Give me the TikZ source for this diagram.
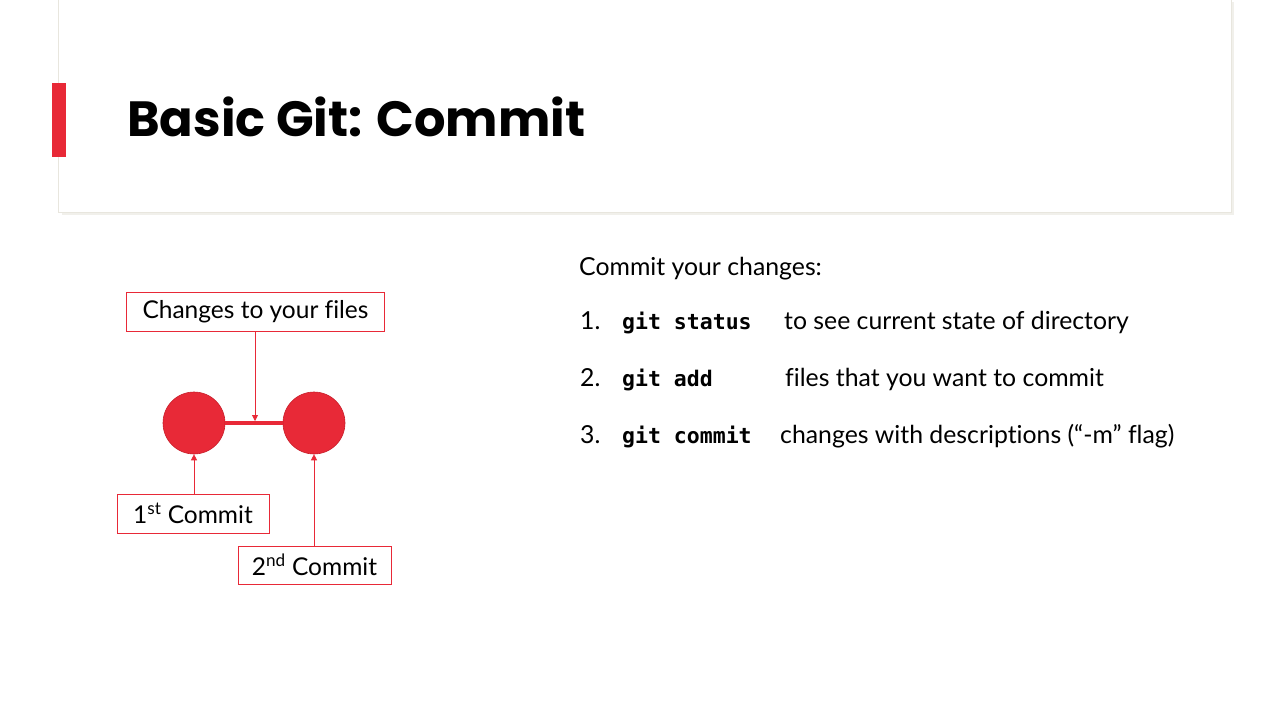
\documentclass[tikz,border=0pt]{standalone}
\usepackage{fontspec}
\setmainfont[Ligatures=NoCommon]{Lato}
\newfontfamily\titlefont{Poppins}
\newfontfamily\codefont{DejaVu Sans Mono}
\usetikzlibrary{arrows.meta}
\definecolor{gitred}{RGB}{232,41,55}
\definecolor{gitredd}{RGB}{200,30,42}
\definecolor{cardline}{RGB}{232,230,222}
\tikzset{
  lbl/.style={draw=gitred, line width=0.8pt, fill=white, inner sep=0pt, font=\fontsize{24.5}{28}\selectfont},
  commit/.style={circle, fill=gitred, draw=gitredd, line width=0.6pt, minimum size=62pt, inner sep=0pt},
  ptr/.style={draw=gitred, line width=0.8pt, -{Triangle[length=6pt,width=6pt]}},
  body/.style={anchor=base west, inner sep=0pt, font=\fontsize{24.8}{30}\selectfont},
  code/.style={anchor=base west, inner sep=0pt, font=\codefont\bfseries\fontsize{21.5}{26}\selectfont},
}
\begin{document}
\begin{tikzpicture}[x=1pt,y=-1pt]
\useasboundingbox (0,0) rectangle (1280,720);
\fill[white] (0,0) rectangle (1280,720);
% title card with shadow
\fill[cardline!60] (62,2) rectangle (1234,215);
\fill[white,draw=cardline,line width=0.8pt] (58,-2) rectangle (1231,212);
\fill[gitred] (52,83) rectangle (66,157);
\node[anchor=base west, inner sep=0pt, font=\titlefont\bfseries\fontsize{49.5}{60}\selectfont] (title) at (127,136) {Basic Git: Commit};

% diagram
\node[lbl, minimum width=258pt, minimum height=39pt] (chg) at (255.5,312) {Changes to your files};
\node[commit] (c1) at (194,423) {};
\node[commit] (c2) at (314,423) {};
\draw[gitred, line width=4pt] (c1.east) -- (c2.west);
\coordinate (mid) at (255,421);
\node[lbl, minimum width=152pt, minimum height=39pt] (first) at (193,513.5) {1\textsuperscript{st} Commit};
\node[lbl, minimum width=153pt, minimum height=38pt] (second) at (314.5,565) {2\textsuperscript{nd} Commit};
\draw[ptr] (chg.south -| mid) -- (mid);
\draw[ptr] (first.north -| c1) -- (c1.south);
\draw[ptr] (second.north -| c2) -- (c2.south);

% text
\node[body] (intro) at (579,275) {Commit your changes:};
\node[body] (n1) at (580,329) {1.};
\node[code] (g1) at (622,329) {git status};
\node[body] (d1) at (784,329) {to see current state of directory};
\node[body] (n2) at (580,386) {2.};
\node[code] (g2) at (622,386) {git add};
\node[body] (d2) at (785,386) {files that you want to commit};
\node[body] (n3) at (580,443) {3.};
\node[code] (g3) at (622,443) {git commit};
\node[body] (d3) at (780,443) {changes with descriptions (“-m” flag)};
\end{tikzpicture}
\end{document}
